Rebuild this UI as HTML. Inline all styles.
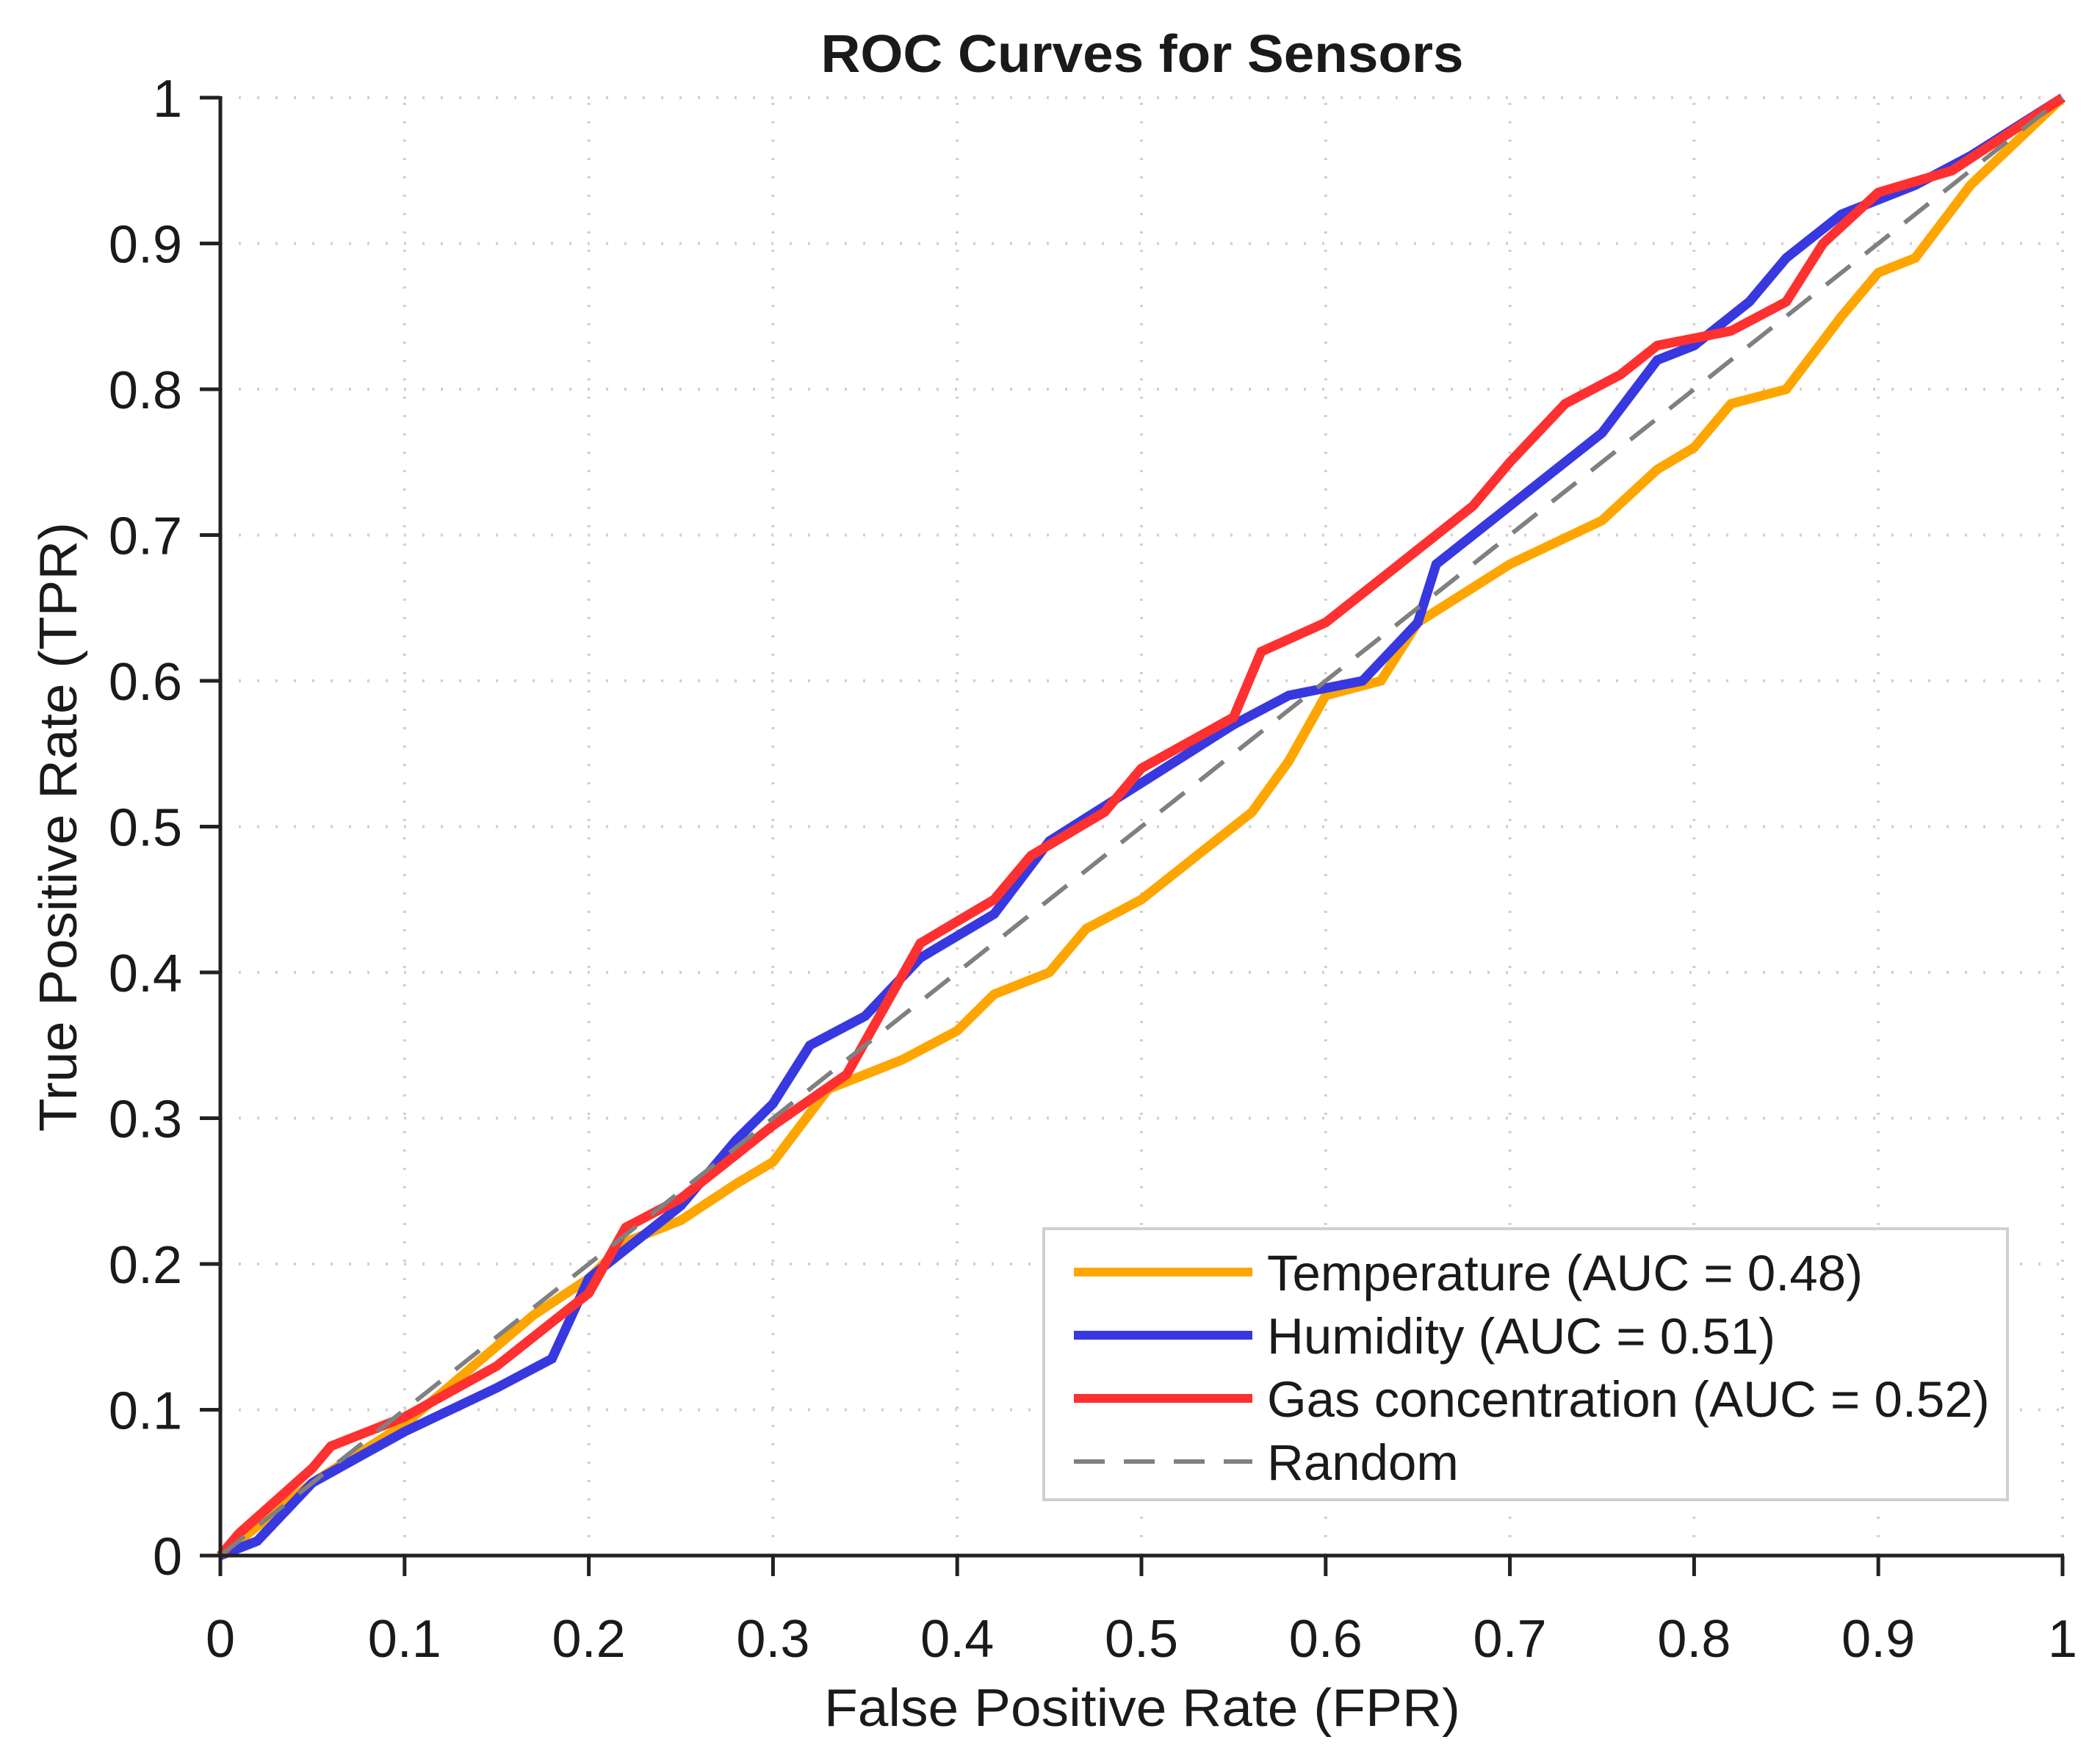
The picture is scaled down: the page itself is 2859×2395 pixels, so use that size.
<!DOCTYPE html>
<html><head><meta charset="utf-8"><style>html,body{margin:0;padding:0;background:#fff}svg{display:block}text{font-family:"Liberation Sans",sans-serif;fill:#1a1a1a}</style></head>
<body>
<svg id="chart" width="2859" height="2395" viewBox="0 0 2859 2395" xmlns="http://www.w3.org/2000/svg">
<g id="grid"></g>
<g id="series"></g>
<g id="axes"></g>
<text x="1555" y="98" text-anchor="middle" font-size="72" font-weight="bold" textLength="875" lengthAdjust="spacingAndGlyphs">ROC Curves for Sensors</text>
<text x="1555" y="2350" text-anchor="middle" font-size="72" textLength="866" lengthAdjust="spacingAndGlyphs">False Positive Rate (FPR)</text>
<text transform="translate(104,1126) rotate(-90)" text-anchor="middle" font-size="72" textLength="830" lengthAdjust="spacingAndGlyphs">True Positive Rate (TPR)</text>
<g id="legend">
<rect x="1421" y="1673" width="1312" height="369" fill="#fff" stroke="#d0d0d0" stroke-width="4"/>
</g>
</svg>
<script>
const ticks=[0,0.1,0.2,0.3,0.4,0.5,0.6,0.7,0.8,0.9,1];
const tickLabels=["0","0.1","0.2","0.3","0.4","0.5","0.6","0.7","0.8","0.9","1"];
const tempFPR=[0,0.02,0.05,0.1,0.17,0.2,0.22,0.25,0.28,0.3,0.33,0.37,0.4,0.42,0.45,0.47,0.5,0.53,0.56,0.58,0.6,0.63,0.65,0.7,0.75,0.78,0.8,0.82,0.85,0.88,0.9,0.92,0.95,1];
const tempTPR=[0,0.02,0.05,0.09,0.165,0.19,0.215,0.23,0.255,0.27,0.32,0.34,0.36,0.385,0.4,0.43,0.45,0.48,0.51,0.545,0.59,0.6,0.64,0.68,0.71,0.745,0.76,0.79,0.8,0.85,0.88,0.89,0.94,1];
const humFPR=[0,0.02,0.05,0.1,0.15,0.18,0.2,0.25,0.28,0.3,0.32,0.35,0.38,0.42,0.45,0.5,0.55,0.58,0.62,0.65,0.66,0.7,0.75,0.78,0.8,0.83,0.85,0.88,0.92,0.95,1];
const humTPR=[0,0.01,0.05,0.085,0.115,0.135,0.19,0.24,0.285,0.31,0.35,0.37,0.41,0.44,0.49,0.53,0.57,0.59,0.6,0.64,0.68,0.72,0.77,0.82,0.83,0.86,0.89,0.92,0.94,0.96,1];
const gasFPR=[0,0.01,0.05,0.06,0.1,0.15,0.2,0.22,0.25,0.3,0.34,0.38,0.42,0.44,0.48,0.5,0.55,0.565,0.6,0.65,0.68,0.7,0.73,0.76,0.78,0.82,0.85,0.87,0.9,0.94,1];
const gasTPR=[0,0.015,0.06,0.075,0.095,0.13,0.18,0.225,0.245,0.295,0.33,0.42,0.45,0.48,0.51,0.54,0.575,0.62,0.64,0.69,0.72,0.75,0.79,0.81,0.83,0.84,0.86,0.9,0.935,0.95,1];
const legendLabels=["Temperature (AUC = 0.48)","Humidity (AUC = 0.51)","Gas concentration (AUC = 0.52)","Random"];

const X0=300,X1=2808,Y0=2118,Y1=133;
const sx=v=>X0+v*(X1-X0), sy=v=>Y0-v*(Y0-Y1);
const NS="http://www.w3.org/2000/svg";
function mk(tag,attrs,parent){const e=document.createElementNS(NS,tag);for(const k in attrs)e.setAttribute(k,attrs[k]);parent.appendChild(e);return e;}
const grid=document.getElementById('grid'),axes=document.getElementById('axes'),series=document.getElementById('series'),legend=document.getElementById('legend');
ticks.forEach((t,i)=>{
 if(t>0){
  const g1=mk('line',{x1:sx(t),x2:sx(t),y1:Y0,y2:Y1,stroke:'#d0d0d0','stroke-width':4,'stroke-dasharray':'3 22'},grid);
  
  const g2=mk('line',{x1:X0,x2:X1,y1:sy(t),y2:sy(t),stroke:'#d0d0d0','stroke-width':4,'stroke-dasharray':'3 22'},grid);
  
 }
 const tx=mk('line',{x1:sx(t),x2:sx(t),y1:Y0,y2:Y0+28,stroke:'#222','stroke-width':5},axes);
 
 const ty=mk('line',{x1:X0-28,x2:X0,y1:sy(t),y2:sy(t),stroke:'#222','stroke-width':5},axes);
 
 const lx=mk('text',{x:sx(t),y:2256,'text-anchor':'middle','font-size':72},axes);lx.textContent=tickLabels[i];
 
 const ly=mk('text',{x:248,y:sy(t)+26,'text-anchor':'end','font-size':72},axes);ly.textContent=tickLabels[i];
 
});
const ax=mk('path',{d:`M${X0} ${Y1-2}V${Y0}H${X1+2}`,fill:'none',stroke:'#222','stroke-width':5},axes);

function curve(xs,ys,color,name){
 const d=xs.map((x,i)=>(i?'L':'M')+sx(x).toFixed(1)+' '+sy(ys[i]).toFixed(1)).join('');
 const p=mk('path',{d,fill:'none',stroke:color,'stroke-width':13,'stroke-linejoin':'miter'},series);
 
}
curve(tempFPR,tempTPR,'#FFA500','temperature-curve');
curve(humFPR,humTPR,'#3838E0','humidity-curve');
curve(gasFPR,gasTPR,'#FF3030','gas-curve');
const rl=mk('line',{x1:sx(0),y1:sy(0),x2:sx(1),y2:sy(1),stroke:'#808080','stroke-width':6,'stroke-dasharray':'42 26'},series);

const lc=['#FFA500','#3838E0','#FF3030','#808080'],ly0=[1732,1818,1904,1990];
legendLabels.forEach((lab,i)=>{
 const l=mk('line',{x1:1462,x2:1705,y1:ly0[i],y2:ly0[i],stroke:lc[i],'stroke-width':i==3?6:12,'stroke-dasharray':i==3?'42 26':'none'},legend);
 
 const t=mk('text',{x:1725,y:ly0[i]+25,'font-size':69},legend);t.textContent=lab;
 
});
</script>
</body></html>
